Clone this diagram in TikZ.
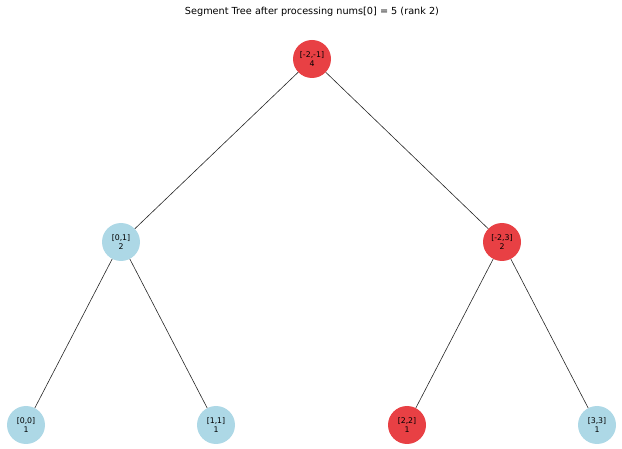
\documentclass[tikz,border=0pt]{standalone}
\usepackage{fontspec}
\setmainfont{DejaVu Sans}
\usetikzlibrary{positioning}
\definecolor{hotred}{RGB}{232,64,68}
\definecolor{lightblue}{RGB}{173,216,230}

\begin{document}
\begin{tikzpicture}[x=1pt, y=-1pt, thin]
  % Define styles
  \tikzstyle{seg} = [circle, minimum size=38pt, inner sep=0pt, align=center, font=\fontsize{7.8}{8.4}\selectfont, text=black]
  \tikzstyle{hit} = [seg, fill=hotred]
  \tikzstyle{miss} = [seg, fill=lightblue]
  \tikzstyle{edge} = [draw, black!85, line width=0.6pt]

  \useasboundingbox (0,0) rectangle (622,449);

  % Title
  \node [font=\fontsize{9.7}{11}\selectfont] (title) at (312,12) {Segment Tree after processing nums[0] = 5 (rank 2)};

  % Place nodes
  \node [hit] (root) at (312,59) {[-2,-1]\\4};
  \node [miss] (left) at (121,242) {[0,1]\\2};
  \node [hit] (right) at (502,242) {[-2,3]\\2};
  \node [miss] (leafA) at (26,425) {[0,0]\\1};
  \node [miss] (leafB) at (216,425) {[1,1]\\1};
  \node [hit] (leafC) at (407,425) {[2,2]\\1};
  \node [miss] (leafD) at (597,425) {[3,3]\\1};

  % Draw edges
  \path [edge] (root) -- (left);
  \path [edge] (root) -- (right);
  \path [edge] (left) -- (leafA);
  \path [edge] (left) -- (leafB);
  \path [edge] (right) -- (leafC);
  \path [edge] (right) -- (leafD);
\end{tikzpicture}
\end{document}
